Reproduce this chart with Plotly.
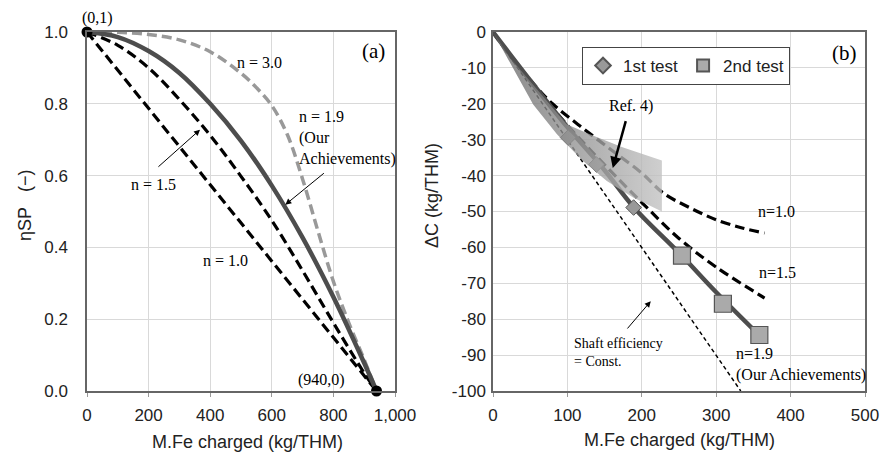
"""ηSP と ΔC の比較図 (a)(b) を plotly で再現。"""
import plotly.graph_objects as go

# ---- (a) ηSP vs M.Fe charged ----
a_x = [0, 100, 200, 300, 400, 500, 600, 700, 800, 900, 940]
a_n10_x = [0, 940]
a_n10_y = [1.0, 0.0]
a_n15_y = [1.0, 0.963, 0.900, 0.812, 0.712, 0.598, 0.475, 0.335, 0.190, 0.050, 0.0]
a_n19_y = [1.0, 0.986, 0.947, 0.886, 0.800, 0.697, 0.572, 0.427, 0.262, 0.078, 0.0]
a_n30_x = [0, 100, 200, 300, 400, 500, 550, 600, 650, 700, 750, 800, 850, 900, 940]
a_n30_y = [1.0, 0.999, 0.993, 0.978, 0.945, 0.885, 0.845, 0.795, 0.715, 0.590, 0.445,
           0.305, 0.190, 0.087, 0.0]
a_pts_x = [0, 940]
a_pts_y = [1.0, 0.0]

# ---- (b) ΔC vs M.Fe charged ----
b_n10_x = [0, 25, 55, 80, 117, 160, 200, 229, 265, 300, 335, 365]
b_n10_y = [0, -7.2, -14.6, -20.0, -26.2, -33.0, -39.3, -44.9, -49.0, -52.3, -54.6, -56.0]
b_n15_x = [0, 50, 100, 150, 200, 250, 300, 365]
b_n15_y = [0, -13.5, -26.0, -37.0, -47.5, -57.5, -65.5, -74.1]
b_n19_x = [0, 50, 100, 150, 190, 250, 300, 358]
b_n19_y = [0, -13.5, -26.5, -38.5, -49.0, -61.5, -72.5, -84.5]
b_const_x = [0, 333]
b_const_y = [0, -100]
# Ref. 4) の範囲（上側 → 右端 → 下側）
band_x = [0, 23, 55, 99, 130, 175, 227, 227, 189, 153, 121, 86, 54, 27, 0]
band_y = [0, -7.2, -15.0, -25.7, -28.5, -32.2, -35.8, -50.0, -46.2, -41.5, -35.9, -28.5, -20.2, -9.9, 0]
test1_x = [101, 139, 189]
test1_y = [-29.4, -36.9, -48.9]
test2_x = [254, 309, 358]
test2_y = [-62.3, -75.7, -84.4]
b_ytick_vals = [0, -10, -20, -30, -40, -50, -60, -70, -80, -90, -100]
b_ytick_text = ["0", "-10", "-20", "-30", "-40", "-50", "-60", "-70", "-80", "-90", "-100"]

SANS = "Liberation Sans, Arial, sans-serif"
SERIF = "Liberation Serif, Times New Roman, serif"
DASH = "10px,5px"

fig = go.Figure()

# (a)
fig.add_trace(go.Scatter(x=a_n10_x, y=a_n10_y, mode="lines",
                         line={"color": "black", "width": 3.2, "dash": DASH}))
fig.add_trace(go.Scatter(x=a_x, y=a_n15_y, mode="lines", line_shape="spline",
                         line={"color": "black", "width": 3.2, "dash": DASH}))
fig.add_trace(go.Scatter(x=a_n30_x, y=a_n30_y, mode="lines", line_shape="spline",
                         line={"color": "#999999", "width": 3.5, "dash": DASH}))
fig.add_trace(go.Scatter(x=a_x, y=a_n19_y, mode="lines", line_shape="spline",
                         line={"color": "#4d4d4d", "width": 4.5}))
fig.add_trace(go.Scatter(x=a_pts_x, y=a_pts_y, mode="markers", cliponaxis=False,
                         marker={"color": "black", "size": 11}))

# (b)
fig.add_trace(go.Scatter(x=b_const_x, y=b_const_y, mode="lines", xaxis="x2", yaxis="y2",
                         line={"color": "black", "width": 1.5, "dash": "4px,3px"}))
fig.add_trace(go.Scatter(x=b_n10_x, y=b_n10_y, mode="lines", line_shape="spline",
                         xaxis="x2", yaxis="y2",
                         line={"color": "black", "width": 3.2, "dash": DASH}))
fig.add_trace(go.Scatter(x=b_n15_x, y=b_n15_y, mode="lines", line_shape="spline",
                         xaxis="x2", yaxis="y2",
                         line={"color": "black", "width": 3.2, "dash": DASH}))
fig.add_trace(go.Scatter(x=b_n19_x, y=b_n19_y, mode="lines", line_shape="spline",
                         xaxis="x2", yaxis="y2",
                         line={"color": "#4d4d4d", "width": 4.5}))
fig.add_trace(go.Scatter(x=test1_x, y=test1_y, mode="markers", name="1st test",
                         xaxis="x2", yaxis="y2", showlegend=True,
                         marker={"symbol": "diamond", "size": 12, "color": "#999999",
                                 "line": {"color": "#555555", "width": 1}}))
fig.add_trace(go.Scatter(x=band_x, y=band_y, mode="lines", fill="toself",
                         xaxis="x2", yaxis="y2", line={"width": 0},
                         fillgradient={"type": "horizontal",
                                       "colorscale": [[0, "rgba(105,105,105,0.8)"],
                                                      [1, "rgba(195,195,195,0.8)"]]}))
fig.add_trace(go.Scatter(x=test2_x, y=test2_y, mode="markers", name="2nd test",
                         xaxis="x2", yaxis="y2", showlegend=True,
                         marker={"symbol": "square", "size": 17, "color": "#aaaaaa",
                                 "line": {"color": "#555555", "width": 1.2}}))

for tr in fig.data:
    if tr.name not in ("1st test", "2nd test"):
        tr.showlegend = False

axis_common = dict(
    showline=True, mirror=True, linecolor="#666666", linewidth=1.5,
    showgrid=True, gridcolor="#d9d9d9", gridwidth=1, zeroline=False,
    tickfont={"family": SANS, "size": 17, "color": "#222222"},
)

ann = []
def note(text, x, y, ref="", size=16, **kw):
    ann.append(dict(text=text, x=x, y=y, xref="x" + ref, yref="y" + ref, showarrow=False,
                    font={"family": SERIF, "size": size, "color": "black"}, **kw))

def arrow(x0, y0, x1, y1, ref="", width=1.0):
    ann.append(dict(text="", x=x1, y=y1, ax=x0, ay=y0, xref="x" + ref, yref="y" + ref,
                    axref="x" + ref, ayref="y" + ref, showarrow=True,
                    arrowhead=2, arrowsize=1.2 if width < 2 else 0.9, arrowwidth=width,
                    arrowcolor="black"))

# (a) ラベル
note("(940,0)", 762, 0.03)
note("n = 3.0", 559, 0.914)
note("n = 1.9<br>(Our<br>Achievements)", 682, 0.705, xanchor="left", align="left")
note("n = 1.5", 216, 0.576)
note("n = 1.0", 449, 0.364)
note("(a)", 930, 0.947, size=21)
arrow(774, 0.610, 644, 0.519)
arrow(227, 0.621, 367, 0.728)

# (b) ラベル
note("Ref. 4)", 186, -20.7, ref="2")
arrow(179, -24.4, 161, -37.9, ref="2", width=2.5)
note("n=1.0", 381, -50, ref="2")
note("n=1.5", 383, -67.1, ref="2")
note("n=1.9<br>(Our Achievements)", 324, -92.5, ref="2", xanchor="left", align="left")
note("Shaft efficiency<br>= Const.", 106, -89.4, ref="2", size=14, xanchor="left", align="left")
arrow(179, -83, 212, -75, ref="2")
note("(b)", 472, -5.8, ref="2", size=21)

# 枠外のテキスト・軸タイトル（paper 座標）
def paper_text(text, x, y, family=SANS, size=18, angle=0, color="#222222"):
    ann.append(dict(text=text, x=x, y=y, xref="paper", yref="paper", showarrow=False,
                    xanchor="center", yanchor="middle", textangle=angle,
                    font={"family": family, "size": size, "color": color}))

paper_text("(0,1)", 97 / 882, 1 - 18 / 457, family=SERIF, size=16, color="black")
paper_text("M.Fe charged (kg/THM)", 247 / 882, 1 - 442 / 457)
paper_text("M.Fe charged (kg/THM)", 679 / 882, 1 - 440 / 457)
paper_text("ηSP\u00a0\u00a0\u00a0(\u2212)", 25 / 882, 1 - 205 / 457, angle=-90)
paper_text("ΔC (kg/THM)", 432 / 882, 1 - 196 / 457, angle=-90)

fig.update_layout(
    width=882, height=457,
    margin={"l": 0, "r": 0, "t": 0, "b": 0, "autoexpand": False},
    paper_bgcolor="white", plot_bgcolor="white",
    xaxis=dict(axis_common, domain=[87 / 882, 395 / 882], range=[0, 1000],
               dtick=200, tickformat=",", ticks="outside", ticklen=4, tickcolor="#999999",
               ticklabelstandoff=4),
    yaxis=dict(axis_common, domain=[1 - 391 / 457, 1 - 32 / 457], range=[0, 1],
               dtick=0.2, tickformat=".1f", ticklabelstandoff=14),
    xaxis2=dict(axis_common, domain=[493 / 882, 865 / 882], range=[0, 500],
                dtick=100, ticks="outside", ticklen=4, tickcolor="#999999",
                ticklabelstandoff=4, anchor="y2"),
    yaxis2=dict(axis_common, domain=[1 - 391 / 457, 1 - 32 / 457], range=[-100, 0],
                tickvals=b_ytick_vals, ticktext=b_ytick_text, anchor="x2",
                ticklabelstandoff=2),
    legend=dict(orientation="h", x=582 / 882, y=1 - 47 / 457, xanchor="left", yanchor="top",
                bgcolor="white", bordercolor="#444444", borderwidth=1,
                font={"family": SANS, "size": 17, "color": "#222222"},
                itemwidth=30, itemsizing="constant", tracegroupgap=0),
    annotations=ann,
)

# ページ既定の body 余白を消して 882x457 にぴったり収める
fig.write_html("out.html", config={"displayModeBar": False},
               post_script="document.body.style.margin='0';")
